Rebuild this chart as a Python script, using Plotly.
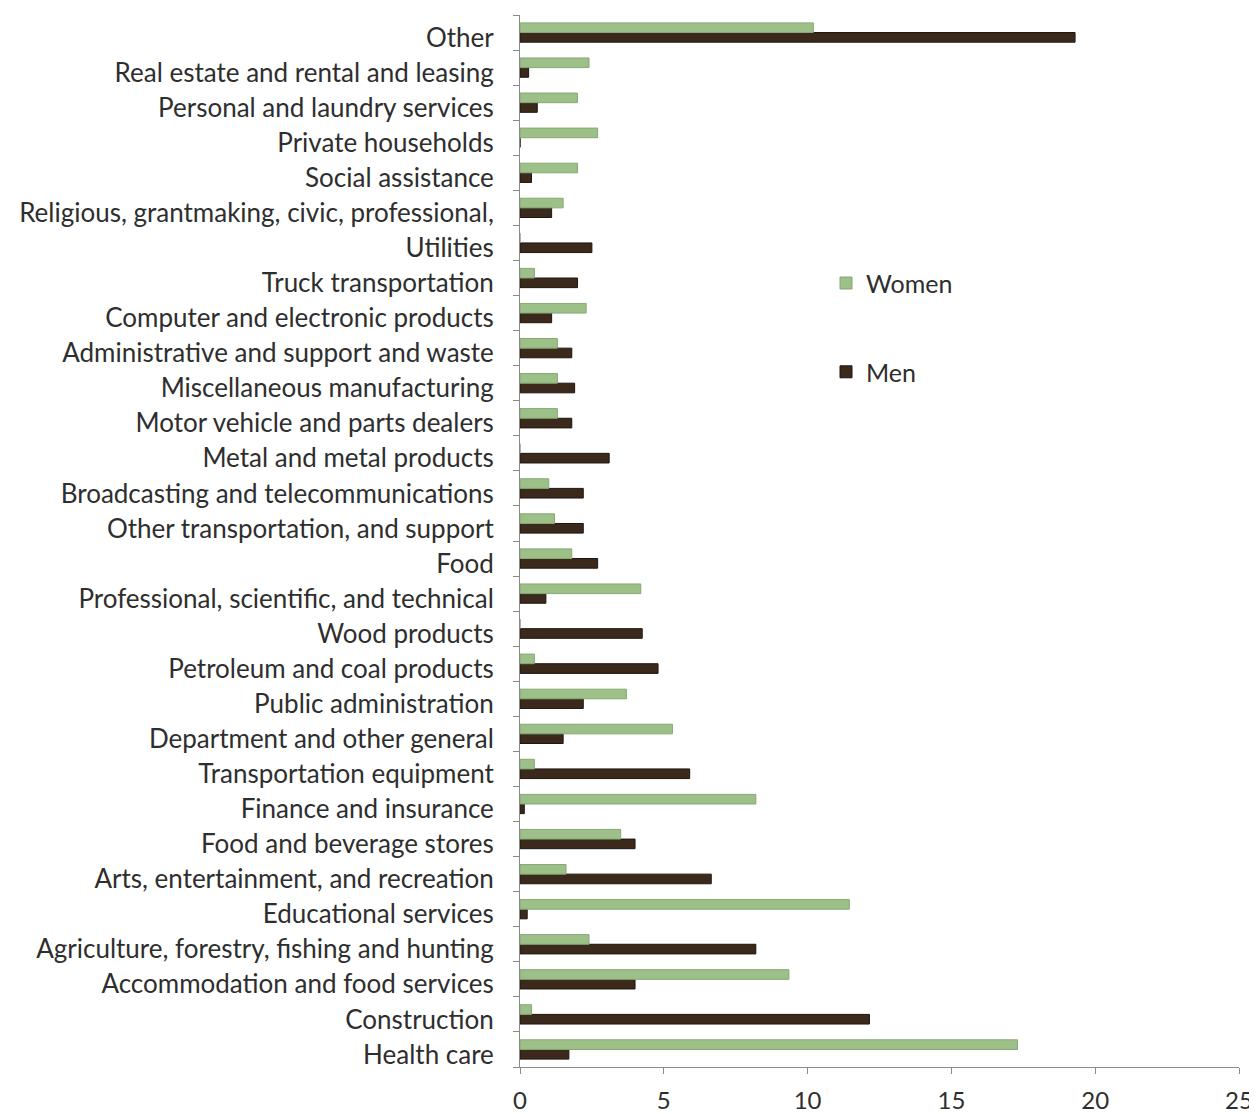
import plotly.graph_objects as go

categories = [
    "Health care", "Construction", "Accommodation and food services",
    "Agriculture, forestry, fishing and hunting", "Educational services",
    "Arts, entertainment, and recreation", "Food and beverage stores",
    "Finance and insurance", "Transportation equipment",
    "Department and other general", "Public administration",
    "Petroleum and coal products", "Wood products",
    "Professional, scientific, and technical", "Food",
    "Other transportation, and support", "Broadcasting and telecommunications",
    "Metal and metal products", "Motor vehicle and parts dealers",
    "Miscellaneous manufacturing", "Administrative and support and waste",
    "Computer and electronic products", "Truck transportation", "Utilities",
    "Religious, grantmaking, civic, professional,", "Social assistance",
    "Private households", "Personal and laundry services",
    "Real estate and rental and leasing", "Other",
]

women = [17.3, 0.4, 9.35, 2.4, 11.45, 1.6, 3.5, 8.2, 0.5, 5.3, 3.7, 0.5, 0.0,
         4.2, 1.8, 1.2, 1.0, 0.0, 1.3, 1.3, 1.3, 2.3, 0.5, 0.0, 1.5, 2.0, 2.7,
         2.0, 2.4, 10.2]
men = [1.7, 12.15, 4.0, 8.2, 0.25, 6.65, 4.0, 0.15, 5.9, 1.5, 2.2, 4.8, 4.25,
       0.9, 2.7, 2.2, 2.2, 3.1, 1.8, 1.9, 1.8, 1.1, 2.0, 2.5, 1.1, 0.4, 0.0,
       0.6, 0.3, 19.3]

x_ticks = [0, 5, 10, 15, 20, 25]

WOMEN_COLOR = "#9cc088"
MEN_COLOR = "#3b2a1c"
TEXT_COLOR = "#2e2e2e"
FONT = "Lato, 'Open Sans', sans-serif"

fig = go.Figure()
fig.add_trace(go.Bar(
    y=categories, x=men, orientation="h", name="Men",
    marker=dict(color=MEN_COLOR, line=dict(color="#1e1510", width=1)),
    legend="legend2",
))
fig.add_trace(go.Bar(
    y=categories, x=women, orientation="h", name="Women",
    marker=dict(color=WOMEN_COLOR, line=dict(color="#86a874", width=1)),
    legend="legend",
))

fig.update_layout(
    width=1249, height=1106,
    margin=dict(l=512, r=18, t=7, b=47),
    paper_bgcolor="white", plot_bgcolor="white",
    barmode="group", bargap=0.45, bargroupgap=0.0,
    font=dict(family=FONT, size=26, color=TEXT_COLOR),
    showlegend=True,
    legend=dict(x=0.4256, y=0.745, xanchor="left", yanchor="middle",
                bgcolor="rgba(0,0,0,0)", font=dict(size=25, color=TEXT_COLOR),
                itemwidth=30),
    legend2=dict(x=0.4256, y=0.6606, xanchor="left", yanchor="middle",
                 bgcolor="rgba(0,0,0,0)", font=dict(size=25, color=TEXT_COLOR),
                 itemwidth=30),
    xaxis=dict(range=[0, 25], tickvals=x_ticks, ticktext=[str(v) for v in x_ticks],
               showgrid=False, zeroline=False, showline=True, automargin=False,
               linecolor="#8a8a8a", linewidth=1, ticks="outside", ticklen=6,
               tickcolor="#8a8a8a", ticklabelstandoff=6,
               tickfont=dict(size=24, color=TEXT_COLOR)),
    yaxis=dict(categoryorder="array", categoryarray=categories,
               showgrid=False, zeroline=False, showline=True, automargin=False,
               linecolor="#8a8a8a", linewidth=1, ticks="outside", ticklen=6,
               tickcolor="#8a8a8a", tickson="boundaries",
               ticklabelstandoff=20, ticklabelshift=5,
               tickfont=dict(size=26, color=TEXT_COLOR)),
)

fig.write_html("out.html")
